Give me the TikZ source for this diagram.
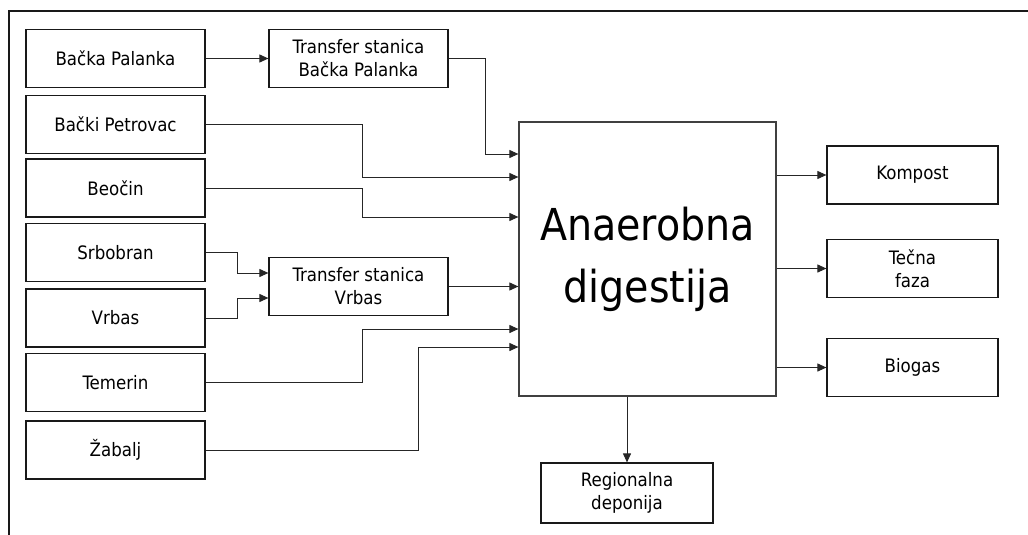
\documentclass[tikz,border=0pt]{standalone}
\usepackage{fontspec}
\setmainfont{DejaVu Sans Condensed}
\usetikzlibrary{arrows.meta,calc}
\begin{document}
\begin{tikzpicture}[x=1pt,y=-1pt,
  box/.style={draw=black!90,line width=1.2pt,minimum height=58pt,inner sep=0pt,align=center,
    font=\fontsize{18.5}{23}\selectfont},
  lbox/.style={box,minimum width=179pt},
  obox/.style={box,minimum width=171pt},
  arr/.style={draw=black!85,line width=1pt,-{Triangle[length=9pt,width=8pt]}},
  conn/.style={draw=black!85,line width=1pt}]
\useasboundingbox (0,0) rectangle (1028,535);
\draw[line width=1.4pt,black!90] (9,535) -- (9,11) -- (1028,11);
% left column
\node[lbox] (bp)  at (115.5,58.5) {Bačka Palanka};
\node[lbox] (bpe) at (115.5,124.5) {Bački Petrovac};
\node[lbox] (beo) at (115.5,188) {Beočin};
\node[lbox] (srb) at (115.5,252.5) {Srbobran};
\node[lbox] (vrb) at (115.5,318) {Vrbas};
\node[lbox] (tem) at (115.5,382.5) {Temerin};
\node[lbox] (zab) at (115.5,450) {Žabalj};
% transfer stations
\node[lbox] (tbp) at (358.5,58.5) {Transfer stanica\\Bačka Palanka};
\node[lbox] (tv)  at (358.5,286.5) {Transfer stanica\\Vrbas};
% main
\node[draw=black!75,line width=1.2pt,minimum width=257pt,minimum height=274pt,inner sep=0pt,
  align=center,font=\fontsize{44}{62}\selectfont] (main) at (647.5,259) {Anaerobna\\digestija};
% outputs
\node[obox] (komp) at (912.5,175) {Kompost};
\node[obox] (tec)  at (912.5,268.5) {Tečna\\faza};
\node[obox] (bio)  at (912.5,367.5) {Biogas};
\node[box,minimum width=172pt,minimum height=60pt] (reg) at (627,493) {Regionalna\\deponija};
% input coordinates
\path (main.west) ++(0,-105) coordinate (in1);
\path (main.west) ++(0,-82) coordinate (in2);
\path (main.west) ++(0,-42) coordinate (in3);
\path (main.west) ++(0,70) coordinate (in5);
\path (main.west) ++(0,88) coordinate (in6);
\path (tv.west) ++(0,-13.5) coordinate (tvin1);
\path (tv.west) ++(0,11.5) coordinate (tvin2);
% connectors
\draw[arr] (bp.east) -- (tbp.west);
\draw[arr] (tbp.east) -- ++(37,0) |- (in1);
\draw[arr] (bpe.east) -- ++(157,0) |- (in2);
\draw[arr] (beo.east) -- ++(157,0) |- (in3);
\draw[arr] (srb.east) -- ++(32,0) |- (tvin1);
\draw[arr] (vrb.east) -- ++(32,0) |- (tvin2);
\draw[arr] (tv.east) -- (tv.east -| main.west);
\draw[arr] (tem.east) -- ++(157,0) |- (in5);
\draw[arr] (zab.east) -- ++(213,0) |- (in6);
\draw[arr] (main.east |- komp.west) -- (komp.west);
\draw[arr] (main.east |- tec.west) -- (tec.west);
\draw[arr] (main.east |- bio.west) -- (bio.west);
\draw[arr] (main.south -| reg.north) -- (reg.north);
\end{tikzpicture}
\end{document}
